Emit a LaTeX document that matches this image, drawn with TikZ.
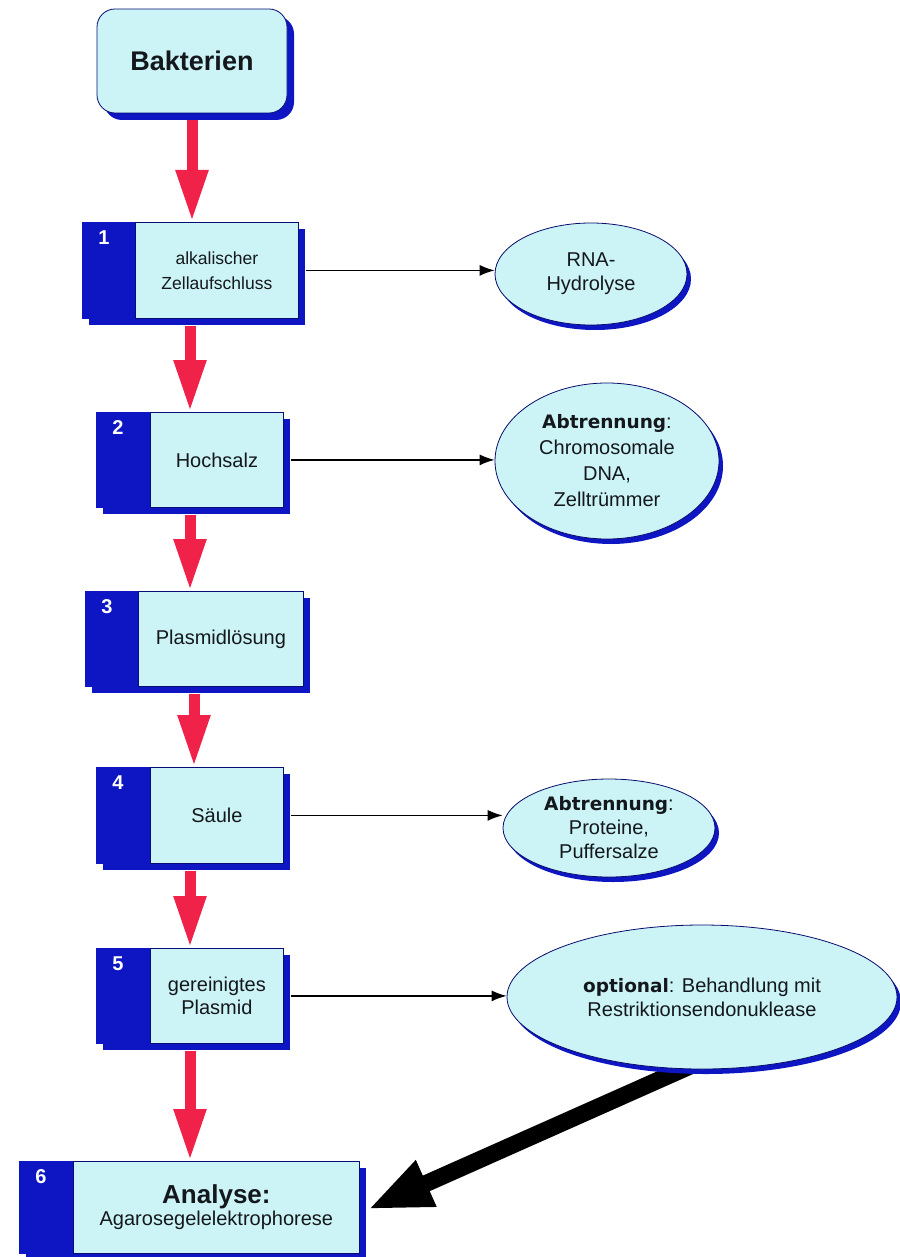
\documentclass[tikz,border=0pt]{standalone}
\usepackage{fontspec}
\setmainfont{Liberation Sans}
\newfontfamily\dvs{DejaVu Sans}
\usetikzlibrary{arrows.meta,shapes.geometric}
\definecolor{dblue}{RGB}{14,22,196}
\definecolor{lcyan}{RGB}{204,244,246}
\definecolor{rred}{RGB}{240,34,74}
\definecolor{txt}{RGB}{20,24,28}
\pgfdeclarelayer{bgl}
\pgfsetlayers{bgl,main}
\tikzset{
  boxbase/.style={fill=dblue, draw=dblue, line width=0.8pt, inner sep=0pt, anchor=north west},
  lightpart/.style={fill=lcyan, draw=dblue!60!black, line width=0.8pt, inner sep=0pt,
    anchor=north west, align=center, text=txt, font=\fontsize{20}{25}\selectfont},
  smalltext/.style={font=\fontsize{17.5}{25}\selectfont},
  numlabel/.style={text=white, font=\bfseries\fontsize{20}{22}\selectfont, inner sep=0pt},
  bakbox/.style={rounded corners=18pt, fill=lcyan, draw=dblue!60!black, line width=0.8pt,
    inner sep=0pt, text=txt, font=\bfseries\fontsize{27}{30}\selectfont},
  bakshadow/.style={rounded corners=18pt, fill=dblue, inner sep=0pt},
  ellnode/.style={ellipse, fill=lcyan, draw=dblue!55!black, line width=0.8pt, inner sep=0pt,
    align=center, text=txt, font=\fontsize{20}{24}\selectfont},
  ellshadow/.style={ellipse, fill=dblue, inner sep=0pt},
  redarr/.style={draw=rred, line width=11pt, -{Triangle[length=52pt,width=30pt]}},
  thinarr/.style={draw=black, line width=1.3pt, -{Latex[length=15pt,width=11pt]}},
  thickarr/.style={draw=black, line width=17pt, -{Triangle[length=64pt,width=46pt]}},
}
\newcommand{\mkstep}[9]{%
  \fill[dblue] (#2+7,#3+7) rectangle (#4+7,#5+7);
  \node[boxbase, minimum width={(#4-#2)*1pt}, minimum height={(#5-#3)*1pt}] (b#1) at (#2,#3) {};
  \node[lightpart, #8, minimum width={(#4-#6)*1pt}, minimum height={(#5-#3)*1pt}] (t#1) at (#6,#3) {#9};
  \node[numlabel] (n#1) at (#2+22,#3+16) {#7};
}
\begin{document}
\begin{tikzpicture}[x=1pt,y=-1pt]
\begin{pgfonlayer}{bgl}
  \fill[white] (0,0) rectangle (899,1257);
\end{pgfonlayer}
\useasboundingbox (0,0) rectangle (899,1257);

% start node
\node[bakshadow, minimum width=190pt, minimum height=104pt] (baks) at (199,68) {};
\node[bakbox, minimum width=190pt, minimum height=104pt] (bak) at (192,61) {Bakterien};

% steps
\mkstep{1}{82}{222}{298}{318}{135}{1}{smalltext}{alkalischer\\Zellaufschluss}
\mkstep{2}{96}{412}{283}{507}{150}{2}{}{Hochsalz}
\mkstep{3}{85}{591}{303}{686}{138}{3}{}{Plasmidlösung}
\mkstep{4}{96}{767}{283}{863}{150}{4}{}{Säule}
\mkstep{5}{96}{948}{283}{1043}{150}{5}{}{gereinigtes\\[-2pt]Plasmid}
\mkstep{6}{19}{1161}{359}{1253}{73}{6}{}{{\bfseries\fontsize{26}{28}\selectfont Analyse:}\\[-3pt]Agarosegelelektrophorese}

% side ellipses
\node[ellshadow, minimum width=192pt, minimum height=102pt] (e1s) at (595,279) {};
\node[ellnode, minimum width=192pt, minimum height=102pt] (e1) at (591,274) {RNA-\\Hydrolyse};
\node[ellshadow, minimum width=224pt, minimum height=156pt] (e2s) at (611,466) {};
\node[ellnode, minimum width=224pt, minimum height=156pt] (e2) at (607,461)
  {{\dvs\bfseries\fontsize{18.5}{24}\selectfont Abtrennung}:\\[2pt]Chromosomale\\[2pt]DNA,\\[2pt]Zelltrümmer};
\node[ellshadow, minimum width=212pt, minimum height=98pt] (e3s) at (613,833) {};
\node[ellnode, minimum width=212pt, minimum height=98pt] (e3) at (609,828)
  {{\dvs\bfseries\fontsize{18.5}{24}\selectfont Abtrennung}:\\Proteine,\\Puffersalze};
\node[ellshadow, minimum width=390pt, minimum height=144pt] (e4s) at (706,1002) {};
\node[ellnode, minimum width=390pt, minimum height=144pt] (e4) at (702,997)
  {{\dvs\bfseries\fontsize{18.5}{24}\selectfont optional}: Behandlung mit\\Restriktionsendonuklease};

% red flow arrows
\coordinate (ax1) at (192,0);
\coordinate (ax2) at (190,0);
\coordinate (ax3) at (190,0);
\coordinate (ax4) at (194,0);
\coordinate (ax5) at (190,0);
\coordinate (ax6) at (190,0);
\draw[redarr, shorten <=7pt] (bak.south -| ax1) -- (b1.north -| ax1);
\draw[redarr, shorten <=7pt] (b1.south -| ax2) -- (b2.north -| ax2);
\draw[redarr, shorten <=7pt] (b2.south -| ax3) -- (b3.north -| ax3);
\draw[redarr, shorten <=7pt] (b3.south -| ax4) -- (b4.north -| ax4);
\draw[redarr, shorten <=7pt] (b4.south -| ax5) -- (b5.north -| ax5);
\draw[redarr, shorten <=7pt] (b5.south -| ax6) -- (b6.north -| ax6);

% thin side arrows
\draw[thinarr, shorten <=7pt] (b1.east) -- (b1.east -| e1.west);
\draw[thinarr, shorten <=7pt] (b2.east) -- (b2.east -| e2.west);
\draw[thinarr, shorten <=7pt] (b4.east) -- (b4.east -| e3.west);
\draw[thinarr, shorten <=7pt] (b5.east) -- (b5.east -| e4.west);

% thick arrow back to analysis
\begin{pgfonlayer}{bgl}
  \draw[thickarr] ([xshift=-6pt,yshift=6pt]e4.south) -- ([xshift=8pt,yshift=-2pt]b6.east);
\end{pgfonlayer}
\end{tikzpicture}
\end{document}
